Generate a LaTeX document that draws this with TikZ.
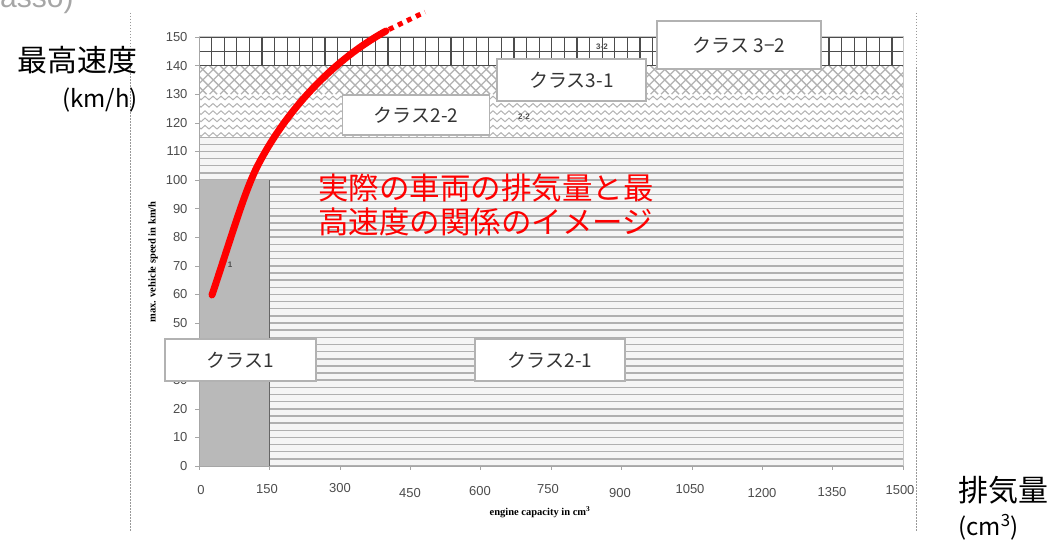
\documentclass[tikz,border=0pt]{standalone}
\usepackage{fontspec}
\setmainfont{Liberation Sans}
\newfontfamily\jp{Noto Sans CJK JP}
\newfontfamily\tms{Liberation Serif}
\usetikzlibrary{decorations.pathmorphing}
\begin{document}
\begin{tikzpicture}[x=1pt,y=-1pt,
  lbl/.style={draw=gray!60, line width=1.5, fill=white, font=\jp\fontsize{19}{19}\selectfont, text=black!80, inner sep=0},
  tick/.style={font=\fontsize{13}{13}\selectfont, text=black!70},
  stripe/.style={gray!62, line width=1.5},
  zz/.style={gray!60, line width=1, decorate, decoration={zigzag, segment length=8, amplitude=1.8}},
  dia/.style={gray!60, line width=1.3},
  grd/.style={black!70, line width=1.3},
  big/.style={font=\jp\fontsize{30}{30}\selectfont, inner sep=0},
  unit/.style={font=\jp\fontsize{24}{24}\selectfont, inner sep=0},
  redtxt/.style={font=\jp\fontsize{30.5}{34}\selectfont, text=red, inner sep=0, align=left},
  small/.style={font=\fontsize{8}{8}\selectfont\bfseries, text=black!70, inner sep=0}
]
\useasboundingbox (0,0) rectangle (1052,543);
% cropped text at top
\node[anchor=base west, font=\fontsize{30}{30}\selectfont, text=gray!70, inner sep=0] (topcut) at (0,8) {asso)};
% dotted frame lines
\draw[gray!80, line width=1, dash pattern=on 1.5 off 1.5] (130,13) -- (130,532);
\draw[gray!80, line width=1, dash pattern=on 1.5 off 1.5] (916,13) -- (916,532);
% stripes region
\fill[gray!8] (199,137) rectangle (903,466);
\begin{scope}
\clip (199,137) rectangle (903,466);
\foreach \i in {0,...,46} \draw[stripe] (199,{466-\i*7.15}) -- (903,{466-\i*7.15});
\end{scope}
% zigzag region
\begin{scope}
\clip (199,94.2) rectangle (903,137);
\foreach \y in {98,105.3,112.6,119.9,127.2,134.5} \draw[zz] (195,\y) -- (910,\y);
\end{scope}
% diamond region
\begin{scope}
\clip (199,65.6) rectangle (903,94.2);
\foreach \k in {-4,...,70} {
  \draw[dia] ({199+\k*10.5},94.2) -- ++(28.6,-28.6);
  \draw[dia] ({199+\k*10.5},65.6) -- ++(28.6,28.6);
}
\end{scope}
% grid region
\begin{scope}
\clip (199,37) rectangle (903,65.6);
\foreach \k in {0,...,56} \draw[grd] ({199+\k*12.6},37) -- ({199+\k*12.6},65.6);
\foreach \y in {37,51.3,65.6} \draw[grd] (199,\y) -- (903,\y);
\end{scope}
% class 1 area
\fill[gray!55] (199,180) rectangle (269.4,466);
\draw[black!60, line width=1.3] (269.4,180) -- (269.4,466);
% plot frame and axes
\draw[gray!45, line width=1] (199,37) rectangle (903,466);
\draw[gray!70, line width=1] (199,37) -- (199,466) -- (903,466);
\foreach \v in {0,10,...,150} \draw[gray!70] (195,{466-\v*2.86}) -- (199,{466-\v*2.86});
\foreach \v in {0,150,...,1500} \draw[gray!70] ({199+\v*0.46933},466) -- ({199+\v*0.46933},470);
\foreach \v in {0,10,...,150} \node[tick, anchor=east] at (191,{466-\v*2.86}) {\v};
% x tick labels
\node[tick] at (201,490) {0};
\node[tick] at (267,489) {150};
\node[tick] at (340,488) {300};
\node[tick] at (410,493) {450};
\node[tick] at (480,491) {600};
\node[tick] at (548,489) {750};
\node[tick] at (620,493) {900};
\node[tick] at (690,489) {1050};
\node[tick] at (762,493) {1200};
\node[tick] at (832,492) {1350};
\node[tick] at (900,490) {1500};
% axis titles
\node[font=\tms\bfseries\fontsize{10.5}{10.5}\selectfont, inner sep=0] (xt) at (540,512) {engine capacity in cm\textsuperscript{3}};
\node[font=\tms\bfseries\fontsize{10.5}{10.5}\selectfont, inner sep=0, rotate=90] (yt) at (153,262) {max. vehicle speed in km/h};
% small region labels
\node[small] (s1) at (230,265) {1};
\node[small] (s22) at (524,117) {2-2};
\node[small] (s32) at (602,47) {3-2};
% class label boxes
\node[lbl, minimum width=151, minimum height=42] (k1) at (240.5,360) {クラス1};
\node[lbl, minimum width=150, minimum height=42] (k21) at (550,360) {クラス2-1};
\node[lbl, minimum width=147, minimum height=40] (k22) at (416,115) {クラス2-2};
\node[lbl, minimum width=149, minimum height=42] (k31) at (571.5,80) {クラス3-1};
\node[lbl, minimum width=164, minimum height=48] (k32) at (739,45) {クラス 3−2};
% red curve
\draw[red, line width=7, line cap=round] (212,295) .. controls (232,235) and (245,190) .. (258,165) .. controls (285,113) and (330,62) .. (386,31);
\draw[red, line width=5, dash pattern=on 5 off 5] (389,29.5) -- (425,12);
% red text
\node[redtxt, anchor=west] (rt) at (318,205) {実際の車両の排気量と最\\高速度の関係のイメージ};
% outer labels
\node[big, anchor=east] (vmax) at (138,60) {最高速度};
\node[unit, anchor=east] (kmh) at (138,100) {(km/h)};
\node[big, anchor=west] (cap) at (958,490) {排気量};
\node[unit, anchor=west] (cm3) at (958,527) {(cm\textsuperscript{3})};
\end{tikzpicture}
\end{document}
